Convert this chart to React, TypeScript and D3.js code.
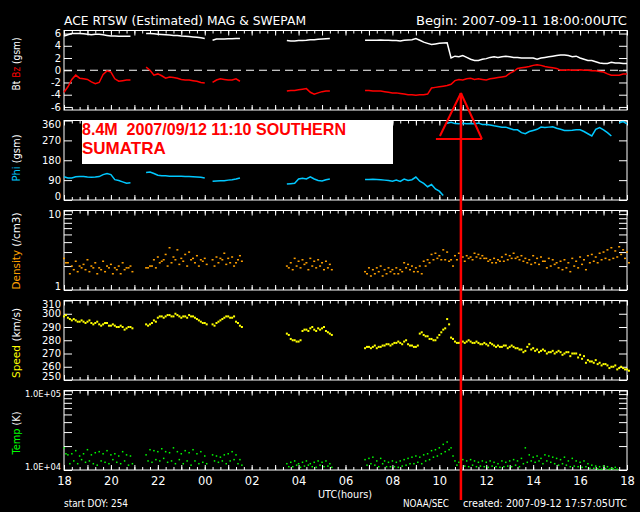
// ACE RTSW (Estimated) MAG & SWEPAM, 24h stack plot
// samples every 10 minutes, index 0 = 2007-09-11 18:00 UTC
import React, { createRef, Component } from "react";
import * as d3 from "d3";

const STEP_H = 1 / 6;
// first sample index of each data run (the plot has gaps in between)
const runStart = [0, 21, 38, 57, 77];

const btRuns = [
  [5.6, 5.8, 6.0, 6.0, 6.0, 5.95, 5.9, 5.8, 5.9, 5.9, 5.8, 5.7, 5.6, 5.6, 5.55, 5.55, 5.55, 5.55],
  [6.0, 6.0, 5.95, 5.9, 5.85, 5.8, 5.75, 5.7, 5.7, 5.6, 5.55, 5.5, 5.45, 5.4, 5.3, 5.2],
  [4.9, 5.1, 5.1, 5.1, 5.15, 5.15, 5.2, 5.2],
  [4.85, 4.8, 4.8, 4.85, 4.85, 4.9, 5.0, 5.0, 5.05, 5.1, 5.15, 5.2],
  [4.9, 4.9, 4.9, 4.9, 4.95, 4.9, 4.9, 4.85, 4.85, 4.8,
   4.9, 4.95, 5.0, 5.2, 4.9, 4.6, 4.4, 4.2, 4.3, 4.4,
   4.45, 4.5, 2.0, 2.3, 2.2, 2.4, 2.1, 1.8, 1.6, 1.6,
   1.8, 1.9, 2.1, 2.2, 2.1, 2.2, 2.3, 2.2, 2.1, 2.1,
   2.0, 2.0, 2.0, 2.0, 1.8, 2.0, 2.1, 2.2, 2.3, 2.4,
   2.5, 2.5, 2.4, 2.2, 2.3, 2.0, 1.8, 1.6, 1.6, 1.4,
   1.2, 1.1, 1.1, 1.3, 1.2, 1.2, 1.1, 1.1],
];

const bzRuns = [
  [-3.6, -2.7, -1.5, -0.8, -1.3, -1.4, -1.5, -1.9, -2.2, -2.0, -0.7, -0.1, -0.3, -1.4, -1.8, -1.7, -1.6, -1.6],
  [0.5, 0.0, -0.8, -0.6, -0.9, -1.3, -1.1, -1.2, -1.3, -1.5, -1.6, -1.6, -1.7, -1.8, -2.0, -2.1],
  [-2.0, -1.6, -1.4, -1.5, -1.6, -1.6, -1.4, -1.8],
  [-3.4, -3.3, -3.3, -3.2, -3.1, -3.0, -3.6, -3.9, -3.7, -3.5, -3.4, -3.4],
  [-3.3, -3.3, -3.4, -3.4, -3.4, -3.5, -3.6, -3.7, -3.7, -3.8,
   -3.9, -4.0, -4.0, -4.1, -4.0, -4.0, -3.9, -2.9, -2.8, -2.7,
   -2.6, -2.5, -2.3, -1.7, -1.5, -1.6, -1.4, -1.3, -1.5, -1.4,
   -1.5, -1.6, -1.4, -1.3, -1.2, -1.1, -1.0, -0.5, -0.2, 0.3,
   0.4, 0.5, 0.6, 0.8, 0.9, 0.8, 0.6, 0.5, 0.4, 0.3,
   0.0, 0.0, 0.1, 0.0, 0.0, 0.1, 0.0, 0.0, -0.1, -0.1,
   -0.2, -0.3, -0.6, -0.8, -0.8, -0.8, -0.6, -0.6],
];

const phiRuns = [
  [105, 100, 100, 105, 106, 106, 104, 103, 104, 106, 115, 120, 115, 92, 88, 82, 76, 78],
  [125, 127, 120, 112, 110, 110, 108, 108, 107, 107, 106, 106, 105, 104, 103, 100],
  [85, 86, 87, 87, 90, 92, 95, 100],
  [72, 74, 76, 95, 98, 95, 105, 95, 88, 86, 92, 95],
  [93, 93, 94, 93, 92, 90, 88, 85, 90, 84,
   95, 88, 92, 104, 85, 75, 60, 70, 50, 40,
   20, 348, 352, 346, 345, 348, 345, 346, 345, 348,
   342, 342, 340, 336, 333, 330, 330, 324, 318, 318,
   305, 300, 310, 315, 320, 330, 328, 330, 332, 325,
   320, 315, 315, 316, 318, 318, 310, 300, 290, 320,
   328, 318, 305, 290, null, 350, 355, 345],
];

// density (/cm3): two samples per 10 minutes, upper and lower part of the dot cloud
const densA = [
  [2.5, 2.2, 2.0, 2.3, 2.0, 2.1, 2.4, 2.0, 2.2, 1.9, 2.3, 2.0, 2.1, 1.9, 2.0, 2.2, 1.9, 2.0],
  [1.9, 2.0, 2.4, 2.6, 2.3, 2.8, 3.4, 2.6, 3.2, 2.5, 2.8, 3.0, 2.5, 2.7, 2.4, 2.5],
  [2.4, 2.6, 2.5, 2.9, 2.5, 2.6, 2.2, 2.7],
  [2.0, 2.2, 2.5, 2.3, 2.4, 2.2, 2.5, 2.3, 2.4, 2.2, 2.3, 2.1],
  [1.7, 1.9, 1.8, 1.9, 2.0, 1.8, 1.9, 1.8, 1.9, 1.8,
   2.2, 2.1, 2.0, 1.9, 2.0, 2.3, 2.4, 2.8, 2.9, 2.7,
   3.2, 3.0, 2.4, 2.7, 2.9, 2.6, 2.7, 2.6, 2.9, 2.8,
   2.7, 2.5, 2.4, 2.5, 2.4, 2.6, 2.8, 2.7, 2.9, 2.6,
   2.7, 2.5, 2.4, 2.7, 2.5, 2.6, 2.3, 2.5, 2.4, 2.2,
   2.3, 2.4, 2.2, 2.5, 2.3, 2.6, 2.4, 2.7, 2.8, 2.6,
   2.9, 3.0, 3.2, 3.4, 3.1, 3.5, 3.2, 3.0],
];
const densB = [
  [2.2, 1.6, 1.8, 1.7, 1.9, 1.8, 1.7, 1.9, 1.6, 1.8, 1.7, 1.9, 1.6, 1.8, 1.6, 1.8, 1.9, 1.7],
  [1.9, 2.0, 1.9, 2.2, 2.4, 2.0, 2.2, 2.4, 2.1, 2.3, 2.0, 2.4, 2.2, 2.0, 2.3, 2.1],
  [2.0, 2.2, 2.4, 2.1, 2.2, 2.0, 2.4, 2.3],
  [1.9, 1.8, 2.0, 1.9, 2.1, 1.8, 2.0, 1.9, 2.0, 1.8, 1.9, 1.8],
  [1.6, 1.5, 1.6, 1.7, 1.5, 1.6, 1.7, 1.6, 1.6, 1.7,
   1.9, 1.8, 1.7, 1.7, 1.6, 2.0, 2.2, 2.4, 2.5, 2.4,
   2.4, 2.3, 2.0, 2.4, 2.5, 2.3, 2.5, 2.4, 2.6, 2.5,
   2.5, 2.3, 2.2, 2.2, 2.3, 2.3, 2.4, 2.5, 2.5, 2.4,
   2.3, 2.2, 2.1, 2.2, 2.1, 2.3, 1.9, 2.0, 2.1, 1.9,
   1.8, 1.9, 1.7, 2.0, 1.9, 2.1, 1.8, 2.2, 2.3, 2.2,
   2.4, 2.5, 2.4, 2.5, 2.6, 2.8, 2.5, 2.2],
];

// speed (km/s)
const speedA = [
  [298, 297, 295, 295, 294, 294, 294, 293, 293, 292, 292, 293, 291, 291, 290, 290, 289, 290],
  [292, 292, 295, 297, 298, 298, 299, 298, 299, 297, 298, 299, 298, 296, 294, 293],
  [292, 293, 295, 297, 298, 297, 294, 291],
  [285, 281, 280, 279, 287, 288, 289, 288, 289, 289, 287, 285],
  [274, 275, 275, 274, 275, 276, 277, 277, 278, 278,
   279, 277, 276, 275, 285, 284, 283, 281, 280, 284,
   288, 296, 282, 279, 278, 279, 279, 279, 278, 278,
   277, 277, 278, 276, 276, 275, 276, 275, 275, 274,
   273, 272, 277, 274, 273, 272, 272, 271, 272, 271,
   271, 270, 271, 270, 270, 269, 268, 265, 264, 265,
   263, 262, 261, 260, 261, 259, 259, 258],
];
const speedB = [
  [299, 296, 296, 294, 295, 293, 295, 292, 294, 291, 293, 291, 292, 290, 291, 288, 290, 289],
  [291, 293, 294, 298, 297, 299, 298, 300, 298, 298, 297, 298, 297, 295, 293, 292],
  [291, 294, 296, 298, 297, 298, 293, 290],
  [284, 280, 279, 280, 288, 287, 290, 287, 288, 290, 286, 284],
  [275, 274, 276, 275, 276, 277, 276, 278, 279, 277,
   280, 276, 275, 276, 286, 283, 281, 280, 282, 286,
   289, 292, 281, 278, 279, 278, 280, 278, 279, 277,
   278, 276, 277, 275, 275, 276, 274, 276, 274, 273,
   271, 275, 273, 272, 271, 273, 270, 271, 270, 272,
   269, 271, 268, 270, 267, 266, 263, 264, 263, 262,
   261, 262, 259, 260, 258, 260, 258, 257],
];

// proton temperature (K)
const tempA = [
  [19000, 15500, 16000, 17500, 15000, 16000, 18000, 15500, 16500, 17000, 16000, 17500, 15500, 16000, 15000, 17000, 15500, 15000],
  [15500, 18000, 17500, 17000, 18500, 17000, 16500, 19000, 17000, 16000, 17500, 16500, 18000, 16000, 17000, 15000],
  [15500, 15000, 14500, 15500, 16000, 17000, 15500, 13500],
  [12000, 12500, 13000, 12000, 12500, 13000, 12000, 12500, 13000, 12500, 13000, 12000],
  [13500, 14000, 14500, 13000, 14000, 13000, 12500, 13000, 12500, 13000,
   13500, 14000, 14500, 15000, 14500, 15500, 16000, 17500, 18000, 19000,
   21000, 22500, 19000, 13000, 12500, 13500, 13000, 13500, 13000, 12500,
   13000, 12500, 13000, 12500, 12000, 13000, 12500, 13000, 13500, 13000,
   14000, 19000, 15500, 14500, 15000, 14000, 15500, 15000, 14500, 14000,
   13500, 14500, 13000, 14000, 13000, 12500, 13000, 12000, 11500, 11200,
   11000, 11200, 11000, 10500, 10800],
];
const tempB = [
  [16000, 12000, 13000, 12000, 13500, 12500, 13000, 12000, 11500, 13000, 12500, 12000, 13500, 12500, 12000, 13000, 11500, 12000],
  [13000, 12500, 13500, 13000, 14000, 12500, 13000, 12000, 13500, 12000, 13000, 11500, 13000, 12000, 12500, 12000],
  [13000, 12500, 13000, 12000, 13000, 13500, 12000, 11500],
  [11000, 11000, 11500, 10800, 11200, 11500, 11000, 10800, 11500, 11000, 11200, 10800],
  [11500, 12000, 11500, 11000, 12000, 11000, 11000, 11000, 10800, 11200,
   11500, 12000, 12000, 12500, 12000, 13000, 13500, 14500, 15000, 16000,
   17000, 18000, 15000, 11500, 11000, 11200, 11000, 11500, 11000, 11200,
   11000, 10800, 11200, 11000, 10800, 11000, 11200, 11000, 11500, 11000,
   12000, 12500, 13000, 12500, 13000, 12000, 13000, 12500, 12000, 11500,
   12000, 11500, 11000, 11200, 11000, 10800, 11000, 10500, 10500, 10300,
   10200, 10400, 10200, 10300, 10200],
];

const hourTicks = [0, 2, 4, 6, 8, 10, 12, 14, 16, 18, 20, 22, 24];
const hourLabels = ["18", "20", "22", "00", "02", "04", "06", "08", "10", "12", "14", "16", "18"];
const bTicks = [6, 4, 2, 0, -2, -4, -6];
const phiTicks = [0, 90, 180, 270, 360];
const densTicks = [1, 2, 3, 4, 5, 6, 7, 8, 9, 10];
const speedTicks = [250, 260, 270, 280, 290, 300, 310];
const tempTicks = [1e4, 2e4, 3e4, 4e4, 5e4, 6e4, 7e4, 8e4, 9e4, 1e5];
// earthquake marker: 8.4M 2007/09/12 11:10, hours after 18:00 UTC as placed on the plot
const eventHour = 16.92;

const FONT = "DejaVu Sans, sans-serif";
const X0 = 64;
const X1 = 627;
const PH = 79.5;
const panelTops = [30.5, 120.5, 210.5, 300.5, 390.5];

type Pt = { t: number; v: number | null };

const toPoints = (runs: (number | null)[][], offset: number): Pt[][] =>
  runs.map((run, r) => run.map((v, j) => ({ t: (runStart[r] + j) * STEP_H + offset, v })));

class AcePlot extends Component<{}, {}> {
  ref: any;

  constructor(props: any) {
    super(props);
    this.ref = createRef();
  }

  componentDidMount() {
    const svg = d3.select(this.ref.current);
    svg.selectAll("*").remove();
    svg.append("rect").attr("width", 640).attr("height", 512).attr("fill", "#000");

    const x = d3.scaleLinear().domain([0, 24]).range([X0, X1]);
    const rng = (i: number) => [panelTops[i] + PH, panelTops[i]];
    const yB = d3.scaleLinear().domain([-6.5, 6.5]).range(rng(0));
    const yPhi = d3.scaleLinear().domain([0, 360]).range(rng(1));
    const yDen = d3.scaleLog().domain([1, 10]).range(rng(2));
    const ySpd = d3.scaleLinear().domain([250, 310]).range(rng(3));
    const yTmp = d3.scaleLog().domain([1e4, 1e5]).range(rng(4));

    const panels: any[] = [
      { y: yB, ticks: bTicks, fmt: (d: any) => String(d) },
      { y: yPhi, ticks: phiTicks, fmt: (d: any) => String(d) },
      { y: yDen, ticks: densTicks, fmt: (d: any) => (d === 1 || d === 10 ? String(d) : "") },
      { y: ySpd, ticks: speedTicks, fmt: (d: any) => String(d) },
      { y: yTmp, ticks: tempTicks, fmt: (d: any) => (d === 1e4 ? "1.0E+04" : d === 1e5 ? "1.0E+05" : ""), small: true },
    ];

    const minorTimes = d3.range(0, 24.001, 1 / 3);
    const hours = d3.range(0, 25, 1);

    const styleAxis = (g: any) => {
      g.select(".domain").remove();
      g.selectAll("line").attr("stroke", "#fff");
      g.selectAll("text").attr("fill", "#fff").attr("font-family", FONT).attr("font-size", 10);
    };

    panels.forEach((p, i) => {
      const top = panelTops[i];
      const [lo, hi] = p.y.domain();
      const g = svg.append("g");
      g.append("rect")
        .attr("x", X0).attr("y", top).attr("width", X1 - X0).attr("height", PH)
        .attr("fill", "none").attr("stroke", "#fff").attr("stroke-width", 1);

      g.append("g").attr("transform", `translate(${X0},0)`)
        .call(d3.axisLeft(p.y).tickValues(p.ticks).tickSize(-8).tickPadding(3).tickFormat(p.fmt))
        .call(styleAxis)
        .call((a: any) => {
          // labels at the panel edges sit just inside the frame
          a.selectAll("text").attr("transform", (d: any) => (d === hi ? "translate(0,3.5)" : d === lo ? "translate(0,-3.5)" : null));
          if (p.small) a.selectAll("text").attr("font-size", 9).attr("textLength", 36).attr("lengthAdjust", "spacingAndGlyphs");
        });
      g.append("g").attr("transform", `translate(${X1},0)`)
        .call(d3.axisRight(p.y).tickValues(p.ticks).tickSize(-8).tickFormat(() => ""))
        .call(styleAxis);

      [
        { vals: minorTimes, len: 3 },
        { vals: hours, len: 5 },
      ].forEach((tk) => {
        g.append("g").attr("transform", `translate(0,${top})`)
          .call(d3.axisTop(x).tickValues(tk.vals).tickSize(-tk.len).tickFormat(() => ""))
          .call(styleAxis);
        g.append("g").attr("transform", `translate(0,${top + PH})`)
          .call(d3.axisBottom(x).tickValues(tk.vals).tickSize(-tk.len).tickFormat(() => ""))
          .call(styleAxis);
      });
    });

    // hour labels under the last panel
    svg.append("g").attr("transform", `translate(0,${panelTops[4] + PH})`)
      .call(d3.axisBottom(x).tickValues(hourTicks).tickSize(0).tickPadding(7)
        .tickFormat((d: any, k: number) => hourLabels[k]))
      .call(styleAxis)
      .call((a: any) => a.selectAll("text").attr("font-size", 11.5));

    // Bz zero line
    svg.append("line")
      .attr("x1", X0).attr("x2", X1).attr("y1", yB(0)).attr("y2", yB(0))
      .attr("stroke", "#fff").attr("stroke-dasharray", "8,5");

    const drawLines = (runs: Pt[][], y: any, color: string, wrap = false) => {
      let pieces: Pt[][] = [];
      runs.forEach((run) => {
        let cur: Pt[] = [];
        run.forEach((d, k) => {
          const prev = k > 0 ? run[k - 1] : null;
          if (d.v == null || (wrap && prev && prev.v != null && Math.abs(d.v - prev.v) > 180)) {
            if (cur.length) pieces.push(cur);
            cur = [];
          }
          if (d.v != null) cur.push(d);
        });
        if (cur.length) pieces.push(cur);
      });
      const line = d3.line<Pt>().x((d) => x(d.t)).y((d) => y(d.v as number));
      svg.append("g").selectAll("path").data(pieces).enter().append("path")
        .attr("d", (d: Pt[]) => (d.length > 1 ? line(d) : `M${x(d[0].t) - 1},${y(d[0].v)}h2`))
        .attr("fill", "none").attr("stroke", color).attr("stroke-width", 1.5);
    };

    const drawDots = (runs: Pt[][], y: any, color: string, w: number, h: number) => {
      const pts = runs.flat().filter((d) => d.v != null);
      svg.append("g").selectAll("rect").data(pts).enter().append("rect")
        .attr("x", (d: Pt) => x(d.t) - w / 2)
        .attr("y", (d: Pt) => y(d.v) - h / 2)
        .attr("width", w).attr("height", h)
        .attr("fill", color);
    };

    drawLines(toPoints(btRuns, 0), yB, "#ffffff");
    drawLines(toPoints(bzRuns, 0), yB, "#ff0000");
    drawLines(toPoints(phiRuns, 0), yPhi, "#00c8ff", true);
    drawDots(toPoints(densA, 0), yDen, "#ffa000", 2, 1.5);
    drawDots(toPoints(densB, STEP_H / 2), yDen, "#ffa000", 2, 1.5);
    drawDots(toPoints(speedA, 0), ySpd, "#ffff00", 2, 2);
    drawDots(toPoints(speedB, STEP_H / 2), ySpd, "#ffff00", 2, 2);
    drawDots(toPoints(tempA, 0), yTmp, "#00ff00", 1.5, 1.5);
    drawDots(toPoints(tempB, STEP_H / 2), yTmp, "#00ff00", 1.5, 1.5);

    // y axis titles, rotated
    const yTitles = [
      { cy: 64, len: 53, parts: [["Bt ", "#fff"], ["Bz", "#ff0000"], [" (gsm)", "#fff"]] },
      { cy: 158, len: 47, parts: [["Phi", "#00c8ff"], [" (gsm)", "#fff"]] },
      { cy: 251, len: 77, parts: [["Density", "#ffa000"], [" (/cm3)", "#fff"]] },
      { cy: 343, len: 70, parts: [["Speed", "#ffff00"], [" (km/s)", "#fff"]] },
      { cy: 433, len: 43, parts: [["Temp", "#00ff00"], [" (K)", "#fff"]] },
    ];
    yTitles.forEach((yt) => {
      const t = svg.append("text")
        .attr("transform", `translate(20,${yt.cy}) rotate(-90)`)
        .attr("text-anchor", "middle")
        .attr("font-family", FONT).attr("font-size", 11)
        .attr("textLength", yt.len).attr("lengthAdjust", "spacingAndGlyphs");
      yt.parts.forEach((pt) => t.append("tspan").attr("fill", pt[1]).text(pt[0]));
    });

    const label = (txt: string, tx: number, ty: number, len: number, size: number, anchor = "start") =>
      svg.append("text").attr("x", tx).attr("y", ty).attr("text-anchor", anchor)
        .attr("fill", "#fff").attr("font-family", FONT).attr("font-size", size)
        .attr("textLength", len).attr("lengthAdjust", "spacingAndGlyphs").text(txt);

    label("ACE RTSW (Estimated) MAG & SWEPAM", 64, 25, 242, 13);
    label("Begin: 2007-09-11 18:00:00UTC", 627, 25, 211, 13, "end");
    label("UTC(hours)", 318, 498, 54, 11);
    label("start DOY: 254", 64, 507, 64, 10);
    label("NOAA/SEC", 403, 507, 46, 10);
    label("created: 2007-09-12 17:57:05UTC", 627, 507, 164, 10, "end");

    // earthquake annotation
    svg.append("rect").attr("x", 82).attr("y", 120).attr("width", 311).attr("height", 44).attr("fill", "#fff");
    const ann = svg.append("g")
      .attr("fill", "#ff0000").attr("font-family", "Liberation Sans, Arial, sans-serif")
      .attr("font-weight", "bold").attr("font-size", 17);
    ann.append("text").attr("x", 82).attr("y", 135).attr("textLength", 264).attr("lengthAdjust", "spacingAndGlyphs")
      .attr("xml:space", "preserve").text("8.4M  2007/09/12 11:10 SOUTHERN");
    ann.append("text").attr("x", 82).attr("y", 154).text("SUMATRA");

    const ex = x(eventHour);
    svg.append("line").attr("x1", ex).attr("x2", ex).attr("y1", 93).attr("y2", 500)
      .attr("stroke", "#ff0000").attr("stroke-width", 2.5);
    svg.append("path")
      .attr("d", `M${ex},93L${ex - 21},136M${ex},93L${ex + 21},139M${ex - 25},139H${ex + 21}`)
      .attr("fill", "none").attr("stroke", "#ff0000").attr("stroke-width", 2);
  }

  render() {
    return (
      <svg
        ref={this.ref}
        width={640}
        height={512}
        style={{ position: "absolute", left: 0, top: 0, background: "#000", display: "block" }}
      />
    );
  }
}

export default function App() {
  return <AcePlot />;
}
